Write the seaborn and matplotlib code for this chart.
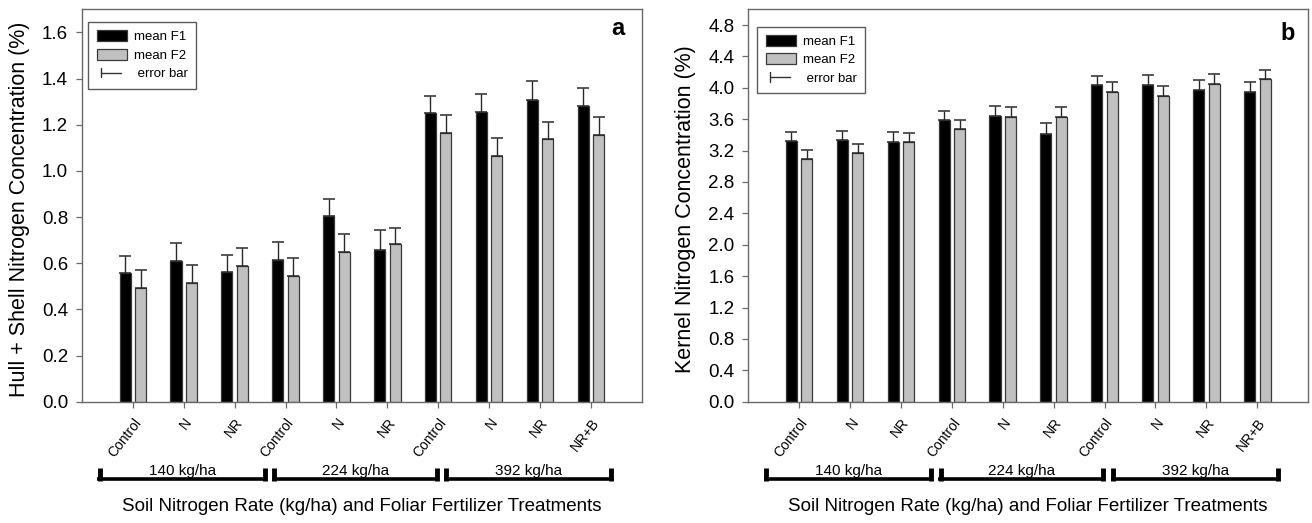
import numpy as np
import pandas as pd
import matplotlib
matplotlib.use("Agg")
import matplotlib.pyplot as plt
import matplotlib.transforms as mtransforms
from matplotlib.patches import Patch
from matplotlib.lines import Line2D
from matplotlib.legend_handler import HandlerBase
import seaborn as sns

# ---------------- data ----------------
treatments = ["Control", "N", "NR", "Control", "N", "NR", "Control", "N", "NR", "NR+B"]
rate_groups = ["140 kg/ha", "224 kg/ha", "392 kg/ha"]
rate_index = [0, 0, 0, 1, 1, 1, 2, 2, 2, 2]
series_names = ["mean F1", "mean F2"]

hull_f1 = [0.557, 0.610, 0.563, 0.616, 0.803, 0.659, 1.249, 1.256, 1.305, 1.281]
hull_f1_err = [0.076, 0.078, 0.074, 0.076, 0.076, 0.083, 0.075, 0.076, 0.085, 0.079]
hull_f2 = [0.492, 0.514, 0.590, 0.545, 0.650, 0.682, 1.165, 1.065, 1.137, 1.155]
hull_f2_err = [0.078, 0.077, 0.075, 0.077, 0.075, 0.071, 0.077, 0.077, 0.076, 0.079]

kernel_f1 = [3.32, 3.34, 3.31, 3.59, 3.64, 3.41, 4.03, 4.04, 3.97, 3.94]
kernel_f1_err = [0.12, 0.11, 0.13, 0.12, 0.13, 0.135, 0.12, 0.12, 0.13, 0.13]
kernel_f2 = [3.09, 3.17, 3.31, 3.48, 3.63, 3.63, 3.95, 3.90, 4.05, 4.11]
kernel_f2_err = [0.12, 0.11, 0.12, 0.11, 0.12, 0.12, 0.12, 0.12, 0.12, 0.12]

x_title = "Soil Nitrogen Rate (kg/ha) and Foliar Fertilizer Treatments"

# ---------------- style ----------------
sns.set_style("white")
plt.rcParams["font.family"] = ["Liberation Sans", "DejaVu Sans"]
plt.rcParams["text.color"] = "black"
plt.rcParams["axes.labelcolor"] = "black"

F1_COLOR = "#000000"
F2_COLOR = "#c0c0c0"
EDGE = "#3a3a3a"
SPINE = "#6a6a6a"


class ErrKey:
    pass


class ErrHandler(HandlerBase):
    def create_artists(self, legend, orig_handle, xdescent, ydescent,
                       width, height, fontsize, trans):
        x0 = -xdescent + 0.13 * width
        x1 = -xdescent + 0.8 * width
        yc = -ydescent + height / 2
        h = height * 0.45
        l1 = Line2D([x0, x1], [yc, yc], color="#333333", lw=1.0, transform=trans)
        l2 = Line2D([x0, x0], [yc - h, yc + h], color="#333333", lw=1.0, transform=trans)
        return [l1, l2]


def draw_panel(ax, f1, f1e, f2, f2e, ymax, ystep, ylabel, tag, tag_xy, leg_xy):
    keys = [f"{rate_group}|{t}|{i}" for i, (rate_group, t) in
            enumerate(zip([rate_groups[r] for r in rate_index], treatments))]
    df = pd.DataFrame({
        "pos": keys * 2,
        "series": [series_names[0]] * len(keys) + [series_names[1]] * len(keys),
        "value": list(f1) + list(f2),
    })
    sns.barplot(data=df, x="pos", y="value", hue="series", order=keys,
                hue_order=series_names,
                palette={series_names[0]: F1_COLOR, series_names[1]: F2_COLOR},
                width=0.61, gap=0.29, errorbar=None, saturation=1,
                edgecolor=EDGE, linewidth=0.9, legend=False, ax=ax)

    for container, err in zip(ax.containers, [f1e, f2e]):
        xs = [b.get_x() + b.get_width() / 2 for b in container]
        ys = [b.get_height() for b in container]
        ax.errorbar(xs, ys, yerr=[np.zeros(len(err)), err], fmt="none",
                    ecolor="#2a2a2a", elinewidth=1.0, capsize=4.5, capthick=1.1)

    ax.set_xlim(-1, 10)
    ax.set_ylim(0, ymax)
    yt = np.arange(0, ymax - 1e-9, ystep)
    ax.set_yticks(yt)
    ax.set_yticklabels([f"{v:.1f}" for v in yt], fontsize=13.5)
    ax.set_xticks(range(len(treatments)))
    ax.set_xticklabels(treatments, rotation=52, ha="right", va="top",
                       rotation_mode="anchor", fontsize=10)
    ax.tick_params(axis="y", direction="out", length=4, width=0.9, color=SPINE,
                   labelcolor="black", pad=6, left=True)
    ax.tick_params(axis="x", direction="out", length=4, width=0.9, color=SPINE,
                   labelcolor="black", pad=6, bottom=True)
    for s in ax.spines.values():
        s.set_visible(True)
        s.set_color(SPINE)
        s.set_linewidth(1.0)
    ax.set_xlabel("")
    ax.set_ylabel(ylabel, fontsize=15.5)
    ax.yaxis.set_label_coords(-0.093, 0.49)

    # bracket groups under the tick labels
    trans = mtransforms.blended_transform_factory(ax.transData, ax.transAxes)
    start, end = -0.7, 9.45
    w = (end - start) / len(rate_groups)
    end_half = 0.045  # half width of the end marks, in category units
    for gi, name in enumerate(rate_groups):
        x0 = start + gi * w + (0.05 if gi > 0 else 0)
        x1 = start + (gi + 1) * w - (0.05 if gi < len(rate_groups) - 1 else 0)
        ax.plot([x0, x1], [-0.197, -0.197], transform=trans, clip_on=False,
                color="black", lw=2.6, solid_capstyle="butt")
        for xe in (x0 + end_half, x1 - end_half):
            ax.plot([xe, xe], [-0.201, -0.168], transform=trans, clip_on=False,
                    color="black", lw=3.5, solid_capstyle="butt")
        ax.text((x0 + x1) / 2, -0.186, name, transform=trans, ha="center",
                va="baseline", fontsize=11)

    ax.text(0.5, -0.268, x_title, transform=ax.transAxes, ha="center",
            va="center", fontsize=13.5)
    ax.text(tag_xy[0], tag_xy[1], tag, transform=ax.transAxes, ha="center",
            va="center", fontsize=17, fontweight="bold")

    handles = [Patch(facecolor=F1_COLOR, edgecolor=EDGE, linewidth=0.9),
               Patch(facecolor=F2_COLOR, edgecolor=EDGE, linewidth=0.9),
               ErrKey()]
    labels = [series_names[0], series_names[1], " error bar"]
    leg = ax.legend(handles, labels, handler_map={ErrKey: ErrHandler()},
                    loc="upper left", bbox_to_anchor=leg_xy, borderaxespad=0,
                    fontsize=9.5, frameon=True, fancybox=False,
                    edgecolor="#333333", handlelength=2.3, handleheight=0.9,
                    handletextpad=0.5, labelspacing=0.4, borderpad=0.65)
    leg.get_frame().set_linewidth(1.0)


fig = plt.figure(figsize=(13.12, 5.23), dpi=100)
ax_a = fig.add_axes([0.0625, 0.2319, 0.4266, 0.7503])
ax_b = fig.add_axes([0.5703, 0.2319, 0.4268, 0.7503])

draw_panel(ax_a, hull_f1, hull_f1_err, hull_f2, hull_f2_err, 1.7, 0.2,
           "Hull + Shell Nitrogen Concentration (%)", "a", (0.958, 0.952), (0.011, 0.968))
draw_panel(ax_b, kernel_f1, kernel_f1_err, kernel_f2, kernel_f2_err, 5.0, 0.4,
           "Kernel Nitrogen Concentration (%)", "b", (0.963, 0.938), (0.016, 0.956))

fig.savefig("out.png", dpi=100)
